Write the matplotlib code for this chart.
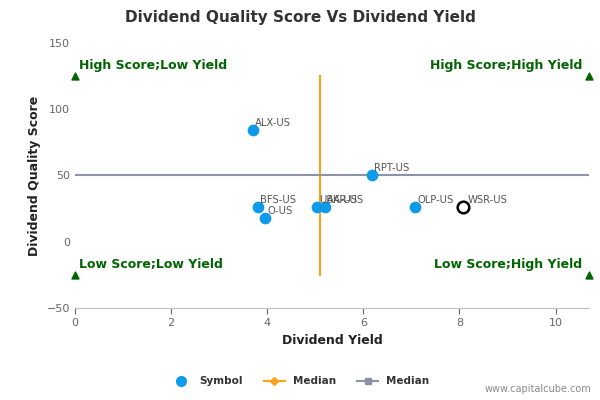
import matplotlib
matplotlib.use("Agg")
import matplotlib.pyplot as plt
from matplotlib.lines import Line2D

symbols = ["ALX-US", "BFS-US", "O-US", "UBA-US", "AKR-US", "RPT-US", "OLP-US"]
yields = [3.7, 3.8, 3.95, 5.03, 5.2, 6.17, 7.07]
scores = [84, 26, 18, 26, 26, 50, 26]
focus_symbol = "WSR-US"
focus_yield = 8.08
focus_score = 26
median_yield = 5.1
median_score = 50
x_max = 10.7

fig = plt.figure(figsize=(6, 4), dpi=100)
ax = fig.add_axes([0.125, 0.23, 0.857, 0.663])
blue = "#0d9ae8"
ax.scatter(yields, scores, s=55, color=blue, zorder=3)
for s, x, y in zip(symbols, yields, scores):
    ax.text(x + 0.05, y + 3, s, fontsize=7.2, color="#555555", zorder=4)
ax.scatter([focus_yield], [focus_score], s=70, facecolor="white", edgecolor="black", linewidth=1.8, zorder=3)
ax.text(focus_yield + 0.1, focus_score + 3, focus_symbol, fontsize=7.2, color="#555555")
ax.plot([median_yield, median_yield], [-25, 125], color="#f7a21b", lw=1.5, zorder=2)
ax.plot([0, x_max], [median_score, median_score], color="#8c92a8", lw=1.5, zorder=2)

green = "#006400"
ax.scatter([0, 0, x_max, x_max], [125, -25, 125, -25], marker="^", color=green, s=25, clip_on=False, zorder=4)
ax.text(0.08, 130, "High Score;Low Yield", color=green, fontsize=9, fontweight="bold")
ax.text(x_max - 0.15, 130, "High Score;High Yield", color=green, fontsize=9, fontweight="bold", ha="right")
ax.text(0.08, -20, "Low Score;Low Yield", color=green, fontsize=9, fontweight="bold")
ax.text(x_max - 0.15, -20, "Low Score;High Yield", color=green, fontsize=9, fontweight="bold", ha="right")

ax.set_xlim(0, x_max)
ax.set_ylim(-50, 150)
ax.set_xticks([0, 2, 4, 6, 8, 10])
ax.set_yticks([-50, 0, 50, 100, 150])
ax.tick_params(labelsize=8, colors="#666666", length=4)
ax.tick_params(axis="y", length=0)
for sp in ["top", "right", "left"]:
    ax.spines[sp].set_visible(False)
ax.spines["bottom"].set_color("#c0c0c0")
ax.set_xlabel("Dividend Yield", fontsize=9, fontweight="bold", color="#222222")
ax.set_ylabel("Dividend Quality Score", fontsize=9, fontweight="bold", color="#222222")
fig.suptitle("Dividend Quality Score Vs Dividend Yield", fontsize=11, fontweight="bold", color="#333333", y=0.975)

handles = [
    Line2D([], [], marker="o", color=blue, linestyle="", markersize=7),
    Line2D([], [], marker="D", color="#f7a21b", markersize=4, lw=1.5),
    Line2D([], [], marker="s", color="#8c92a8", markersize=5, lw=1.5),
]
fig.legend(handles, ["Symbol", "Median", "Median"], loc="center", bbox_to_anchor=(0.5, 0.047),
           ncol=3, frameon=False, prop={"size": 7.5, "weight": "bold"}, labelcolor="#333333")
fig.text(0.985, 0.02, "www.capitalcube.com", fontsize=7, color="#888888", ha="right")
fig.savefig("out.png")
